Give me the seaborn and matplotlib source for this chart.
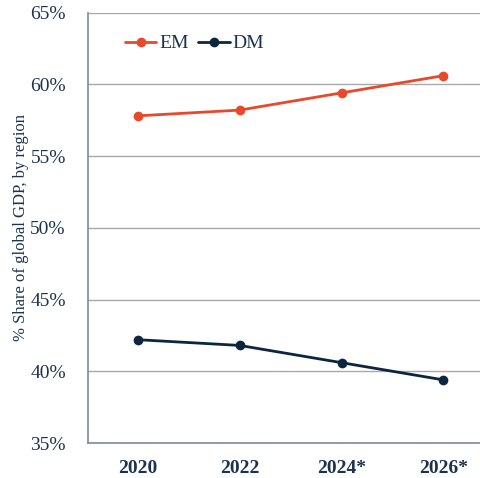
import matplotlib
matplotlib.use("Agg")
import matplotlib.pyplot as plt
import seaborn as sns
import pandas as pd

years = ["2020", "2022", "2024*", "2026*"]
em_share = [57.8, 58.2, 59.4, 60.6]
dm_share = [42.2, 41.8, 40.6, 39.4]
y_ticks = [35, 40, 45, 50, 55, 60, 65]

df = pd.DataFrame({
    "year": years * 2,
    "share": em_share + dm_share,
    "region": ["EM"] * len(years) + ["DM"] * len(years),
})

sns.set_theme(style="white")
plt.rcParams["font.family"] = ["Liberation Serif", "DejaVu Serif"]

text_col = "#1c3350"
palette = {"EM": "#e8492b", "DM": "#0c2640"}

fig = plt.figure(figsize=(4.8, 4.78), dpi=100)
ax = fig.add_axes([0.1833, 0.0732, 0.8167, 0.9006])

sns.lineplot(data=df, x="year", y="share", hue="region", palette=palette,
             marker="o", markersize=7, markeredgewidth=0, linewidth=2,
             sort=False, ax=ax)

ax.set_ylim(35, 65)
ax.set_xlim(-0.49, 3.36)
ax.set_yticks(y_ticks)
ax.set_yticklabels([f"{v}%" for v in y_ticks])
ax.yaxis.grid(True, color="#a9a9a9", linewidth=1)
ax.xaxis.grid(False)
ax.set_axisbelow(True)

for side in ["top", "right"]:
    ax.spines[side].set_visible(False)
for side in ["left", "bottom"]:
    ax.spines[side].set_color("#7d8b99")
    ax.spines[side].set_linewidth(1.2)

ax.tick_params(axis="both", length=0, colors=text_col, labelsize=14)
ax.tick_params(axis="y", pad=16)
ax.tick_params(axis="x", pad=12)
for lbl in ax.get_xticklabels():
    lbl.set_fontweight("bold")

ax.set_xlabel("")
ax.set_ylabel("% Share of global GDP, by region", color=text_col, fontsize=12, labelpad=1)

leg = ax.legend(loc="center left", bbox_to_anchor=(0.075, 0.928), ncol=2, frameon=False,
                fontsize=14, handlelength=1.6, handletextpad=0.15, columnspacing=0.5,
                borderaxespad=0)
for t in leg.get_texts():
    t.set_color(text_col)

fig.savefig("out.png", dpi=100)
